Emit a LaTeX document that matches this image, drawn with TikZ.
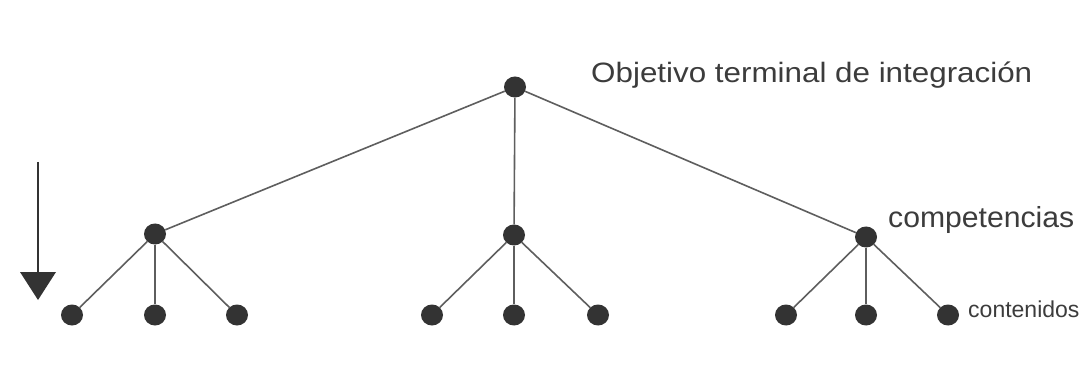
\documentclass[tikz,border=0pt]{standalone}
\usepackage{fontspec}
\setmainfont{Liberation Sans}
\usetikzlibrary{shapes.geometric}
\definecolor{dotc}{HTML}{333333}
\definecolor{linec}{HTML}{5E5E5E}
\definecolor{textc}{HTML}{3C3C3C}
\tikzset{
  dot/.style={ellipse,fill=dotc,draw=none,minimum width=22pt,minimum height=21pt,inner sep=0pt},
  edge/.style={draw=linec,line width=1.6pt},
  lab/.style={text=textc,inner sep=0pt,anchor=base west},
}
\begin{document}
\begin{tikzpicture}[x=1pt,y=-1pt]
\useasboundingbox (0,0) rectangle (1091,379);
\fill[white] (0,0) rectangle (1091,379);
% nodes
\node[dot] (r) at (515,87) {};
\node[dot] (c1) at (155,234) {};
\node[dot] (c2) at (514,235) {};
\node[dot] (c3) at (866,237) {};
\foreach \n/\x in {l1/72,l2/155,l3/237,l4/432,l5/514,l6/598,l7/786,l8/866,l9/948}
  \node[dot] (\n) at (\x,315) {};
% edges
\foreach \c in {c1,c2,c3} \draw[edge] (r) -- (\c);
\foreach \l in {l1,l2,l3} \draw[edge] (c1) -- (\l);
\foreach \l in {l4,l5,l6} \draw[edge] (c2) -- (\l);
\foreach \l in {l7,l8,l9} \draw[edge] (c3) -- (\l);
% arrow
\coordinate (as) at (38,162);
\coordinate (ae) at (38,274);
\draw[draw=dotc,line width=1.8pt] (as) -- (ae);
\fill[dotc] (20,272) -- (56,272) -- (38,300) -- cycle;
% labels
\node[lab,font=\fontsize{28}{30}\selectfont,xscale=1.12] (t1) at (591,83) {Objetivo terminal de integración};
\node[lab,font=\fontsize{29}{31}\selectfont,xscale=1.04] (t2) at (888,228) {competencias};
\node[lab,font=\fontsize{23}{25}\selectfont] (t3) at (968,317) {contenidos};
\end{tikzpicture}
\end{document}
